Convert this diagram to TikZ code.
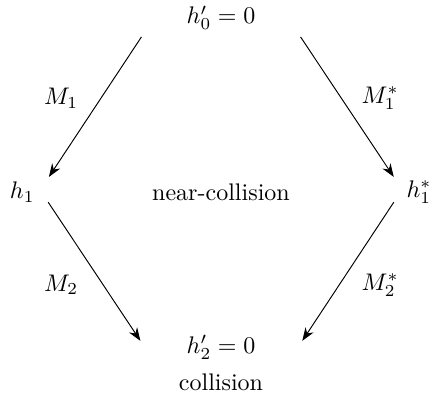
\documentclass[tikz,border=0pt]{standalone}
\usepackage{amsmath}
\usetikzlibrary{positioning,arrows.meta,calc}

\begin{document}
\begin{tikzpicture}[
  every node/.style={font=\normalsize},
  state/.style={inner sep=2pt},
  arrow/.style={-{Stealth[length=5.5pt,width=4pt]}, black},
  note/.style={inner sep=1pt}
]
\useasboundingbox (-3.236,-2.958) rectangle (3.075,2.811);

% The four hash states
\node[state] (h0) at (0,2.55) {$h'_0 = 0$};
\node[state] (h1) at (-2.91,0) {$h_1$};
\node[state] (h1s) at (2.9,0) {$h_1^*$};
\node[state] (h2) at (0,-2.27) {$h'_2 = 0$};
\node[note] (coll) at (0,-2.78) {collision};

% Middle text
\node[note] (near) at (0,0) {near-collision};

% Message blocks
\node[note] (m1) at (-2.34,1.37) {$M_1$};
\node[note] (m1s) at (2.33,1.37) {$M_1^*$};
\node[note] (m2) at (-2.34,-1.36) {$M_2$};
\node[note] (m2s) at (2.33,-1.36) {$M_2^*$};

% Arrows
\draw[arrow] ($(h0)+(-1.165,-0.28)$) -- ($(h1)+(0.39,0.22)$);
\draw[arrow] ($(h0)+(1.165,-0.28)$) -- ($(h1s)+(-0.37,0.22)$);
\draw[arrow] ($(h1)+(0.38,-0.15)$) -- ($(h2)+(-1.18,0.09)$);
\draw[arrow] ($(h1s)+(-0.37,-0.15)$) -- ($(h2)+(1.19,0.09)$);

\end{tikzpicture}
\end{document}
